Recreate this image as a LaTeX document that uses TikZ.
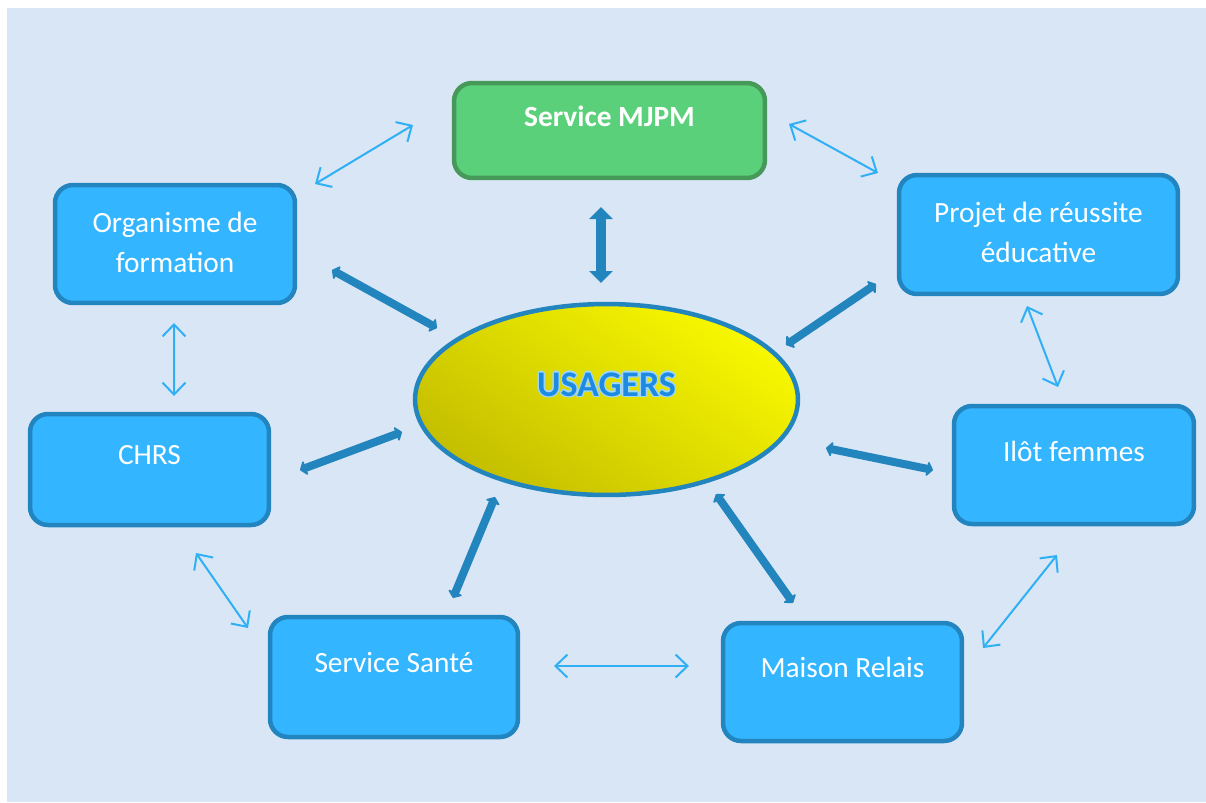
\documentclass[tikz,border=0pt]{standalone}
\usepackage{fontspec}
\setmainfont{Carlito}
\usetikzlibrary{arrows.meta,shapes.geometric,calc}

\definecolor{bg}{HTML}{D9E6F5}
\definecolor{boxfill}{HTML}{33B6FF}
\definecolor{boxline}{HTML}{2385BF}
\definecolor{greenfill}{HTML}{5BD07A}
\definecolor{greenline}{HTML}{47995A}
\definecolor{thickblue}{HTML}{2385BE}
\definecolor{thinblue}{HTML}{2FB0F5}
\definecolor{ylight}{HTML}{F8F800}
\definecolor{ymid}{HTML}{EEEA00}
\definecolor{ydark}{HTML}{C4BE00}
\definecolor{titleblue}{HTML}{1E8AE0}
\definecolor{titleglow}{HTML}{9ED8FF}

\newcommand{\boxfont}{\fontsize{16.7pt}{22.7pt}\selectfont}
\newcommand{\titlefont}{\fontsize{20.5pt}{24pt}\selectfont\bfseries}

\tikzset{
  partner/.style={draw=boxline, fill=boxfill, line width=0.09cm,
    rounded corners=0.36cm, inner sep=0pt},
  mjpmbox/.style={draw=greenline, fill=greenfill, line width=0.09cm,
    rounded corners=0.36cm, inner sep=0pt},
  boxtext/.style={text=white, font=\boxfont, align=center, inner sep=0pt},
  centre/.style={ellipse, draw=thickblue, line width=0.09cm, inner sep=0pt,
    minimum width=7.66cm, minimum height=3.82cm,
    shading=axis, top color=ylight, middle color=ymid, bottom color=ydark,
    shading angle=-35},
  thicklink/.style={draw=thickblue, line width=0.16cm,
    {Triangle[length=0.13cm,width=0.34cm,round]}-{Triangle[length=0.13cm,width=0.34cm,round]}},
  bigthicklink/.style={draw=thickblue, line width=0.2cm,
    {Triangle[length=0.24cm,width=0.46cm]}-{Triangle[length=0.24cm,width=0.46cm]}},
  thinlink/.style={draw=thinblue, line width=0.04cm,
    {Straight Barb[length=0.24cm,width=0.46cm]}-{Straight Barb[length=0.24cm,width=0.46cm]}},
}

\begin{document}
\begin{tikzpicture}[x=0.02cm, y=-0.02cm]
  % page and background panel
  \useasboundingbox (0,0) rectangle (1206,802);
  \fill[white] (0,0) rectangle (1206,802);
  \fill[bg] (7,8) rectangle (1206,802);

  % central ellipse
  \node[centre] (us) at (606.5,399.5) {};
  \foreach \dx/\dy in {1.3/0,-1.3/0,0/1.3,0/-1.3,0.9/0.9,-0.9/0.9,0.9/-0.9,-0.9/-0.9}
    \node[text=titleglow, font=\titlefont, inner sep=0pt] at ($(us)+(\dx,\dy-15)$) {USAGERS};
  \node[text=titleblue, font=\titlefont, inner sep=0pt] (ustitle) at ($(us)+(0,-15)$) {USAGERS};

  % partner boxes
  \node[mjpmbox, minimum width=6.22cm, minimum height=1.90cm,
        label={[boxtext, font=\boxfont\bfseries, yshift=0.29cm]center:Service MJPM}]
        (mjpm) at (609.5,130.5) {};
  \node[partner, minimum width=4.80cm, minimum height=2.36cm] (org) at (175,244) {};
  \node[boxtext] (orgt) at (175,242) {Organisme de\\formation};
  \node[partner, minimum width=5.58cm, minimum height=2.38cm] (proj) at (1038.5,234.5) {};
  \node[boxtext] (projt) at (1038.5,232) {Projet de réussite\\éducative};
  \node[partner, minimum width=4.78cm, minimum height=2.22cm,
        label={[boxtext, yshift=0.29cm]center:CHRS}] (chrs) at (149.5,469.5) {};
  \node[partner, minimum width=4.80cm, minimum height=2.36cm,
        label={[boxtext, yshift=0.28cm]center:Ilôt femmes}] (ilot) at (1074,465) {};
  \node[partner, minimum width=4.96cm, minimum height=2.40cm,
        label={[boxtext, yshift=0.30cm]center:Service Santé}] (sante) at (394,677) {};
  \node[partner, minimum width=4.78cm, minimum height=2.36cm,
        label={[boxtext, yshift=0.30cm]center:Maison Relais}] (maison) at (842.5,682) {};

  % thick links between the users and each partner
  \draw[bigthicklink] ($(mjpm)+(-8.5,76.5)$) -- ($(us)+(-5.5,-116.5)$);
  \draw[thicklink] ($(org)+(157,26)$) -- ($(us)+(-169.5,-71.5)$);
  \draw[thicklink] ($(proj)+(-162.5,49.5)$) -- ($(us)+(179.5,-54.5)$);
  \draw[thicklink] ($(chrs)+(150.5,0.5)$) -- ($(us)+(-204.5,32.5)$);
  \draw[thicklink] ($(ilot)+(-141,5)$) -- ($(us)+(219.5,48.5)$);
  \draw[thicklink] ($(sante)+(59,-79)$) -- ($(us)+(-111.5,97.5)$);
  \draw[thicklink] ($(maison)+(-49.5,-79)$) -- ($(us)+(109.5,94.5)$);

  % thin links between neighbouring partners
  \draw[thinlink] ($(org)+(140,-60)$) -- ($(mjpm)+(-196.5,-5.5)$);
  \draw[thinlink] ($(mjpm)+(179.5,-6.5)$) -- ($(proj)+(-160.5,-61.5)$);
  \draw[thinlink] ($(org)+(-1,79)$) -- ($(chrs)+(24.5,-73.5)$);
  \draw[thinlink] ($(proj)+(-11.5,71.5)$) -- ($(ilot)+(-16,-78)$);
  \draw[thinlink] ($(chrs)+(46.5,83.5)$) -- ($(sante)+(-146,-49)$);
  \draw[thinlink] ($(sante)+(160,-11)$) -- ($(maison)+(-153.5,-16)$);
  \draw[thinlink] ($(ilot)+(-17,90)$) -- ($(maison)+(140.5,-34)$);
\end{tikzpicture}
\end{document}
